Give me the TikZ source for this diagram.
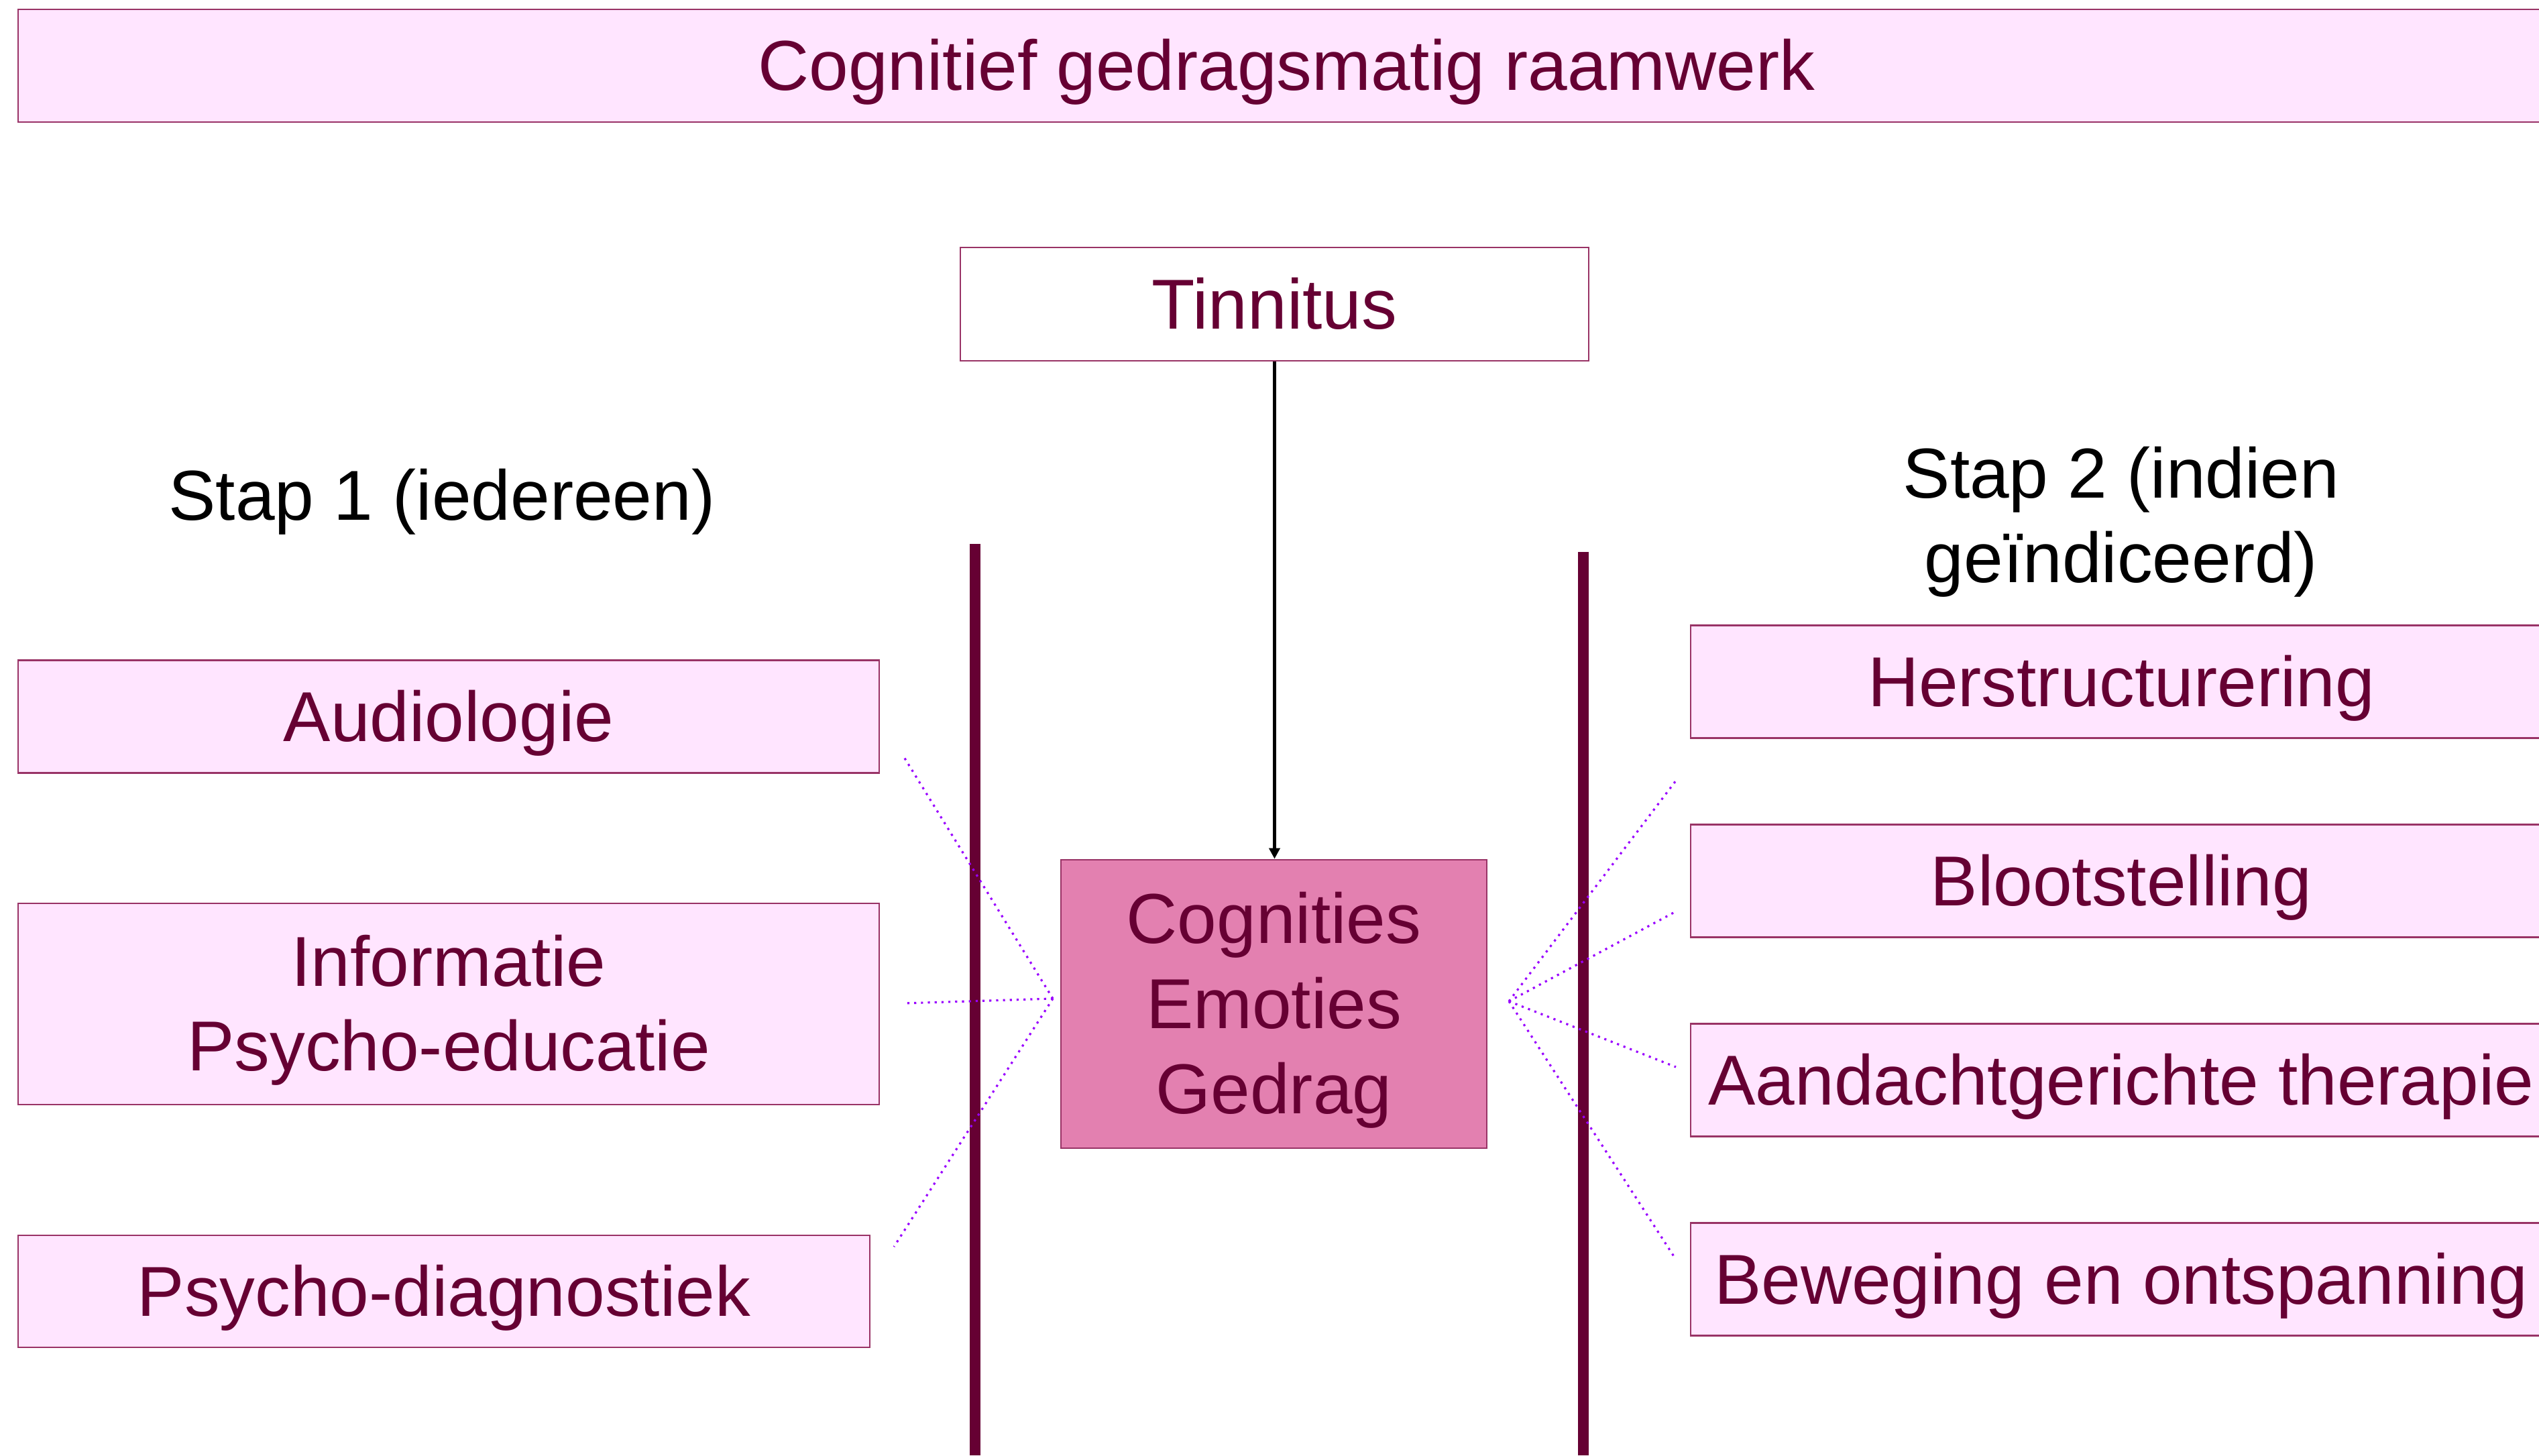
\documentclass[tikz,border=0pt]{standalone}
\usepackage{fontspec}
\setmainfont{Liberation Sans}
\usetikzlibrary{arrows.meta}
\usetikzlibrary{calc}
\definecolor{tx}{HTML}{660033}
\definecolor{bd}{HTML}{993366}
\definecolor{lf}{HTML}{FFE5FF}
\definecolor{mf}{HTML}{E380B0}
\definecolor{dt}{HTML}{9900FF}
\newcommand{\regelsteun}{\rule[-0.212em]{0pt}{1.117em}}
\tikzset{
  txt/.style={font=\fontsize{30}{36}\selectfont, align=center,
    execute at begin node=\regelsteun, execute at end node=\regelsteun},
  multi/.style={execute at begin node={\rule[-0.212em]{0pt}{#1}}},
  box/.style={txt, draw=bd, line width=0.8pt, fill=lf, text=tx, inner sep=0pt,
    minimum width=12.84cm, minimum height=1.68cm},
  link/.style={draw=dt, dotted, line width=0.9pt},
}
\begin{document}
\begin{tikzpicture}

  \useasboundingbox (0,0) rectangle (37.86,21.70);
  \clip (0,0) rectangle (37.86,21.70);

  % kop en tinnitus
  \node[box, minimum width=37.83cm] (kop) at (19.185,20.72) {Cognitief gedragsmatig raamwerk};
  \node[box, fill=white, minimum width=9.37cm, minimum height=1.69cm] (tin) at (19.005,17.165) {Tinnitus};
  \node[box, multi=105.5pt, fill=mf, minimum width=6.35cm, minimum height=4.30cm] (kern) at (18.995,6.73) {Cognities\\Emoties\\Gedrag};
  \draw[-{Triangle[width=0.16cm, length=0.16cm]}, line width=1.4pt] (tin.south) -- (tin.south |- kern.north);

  % stap 1
  \node[txt] (stap1) at (6.59,14.31) {Stap 1 (iedereen)};
  \node[box] (audio) at (6.69,11.015) {Audiologie};
  \node[box, multi=69.5pt, minimum height=3.0cm] (info) at (6.69,6.73) {Informatie\\Psycho-educatie};
  \node[box, minimum width=12.70cm, minimum height=1.67cm] (diag) at (6.62,2.445) {Psycho-diagnostiek};

  % stap 2
  \node[txt, multi=69.5pt] (stap2) at (31.63,14.01) {Stap 2 (indien\\geïndiceerd)};
  \node[box] (herst) at (31.63,11.535) {Herstructurering};
  \node[box] (bloot) at ($(herst)+(0,-2.97)$) {Blootstelling};
  \node[box] (aand) at ($(bloot)+(0,-2.97)$) {Aandachtgerichte therapie};
  \node[box] (bew) at ($(aand)+(0,-2.97)$) {Beweging en ontspanning};

  % scheidingslijnen
  \draw[draw=tx, line width=4.8pt] (14.54,13.59) -- (14.54,0);
  \draw[draw=tx, line width=4.8pt] (23.61,13.47) -- (23.61,0);

  % stippellijnen
  \coordinate (lhub) at (15.70,6.81);
  \coordinate (la) at (13.48,10.41);
  \coordinate (lb) at (13.48,6.74);
  \coordinate (lc) at (13.33,3.11);
  \coordinate (rhub) at (22.50,6.77);
  \coordinate (ra) at (24.99,10.06);
  \coordinate (rb) at (24.99,8.11);
  \coordinate (rc) at (24.99,5.79);
  \coordinate (rd) at (24.99,2.92);
  \foreach \e in {la,lb,lc}
    \draw[link] (lhub) -- (\e);
  \foreach \e in {ra,rb,rc,rd}
    \draw[link] (rhub) -- (\e);

\end{tikzpicture}
\end{document}
